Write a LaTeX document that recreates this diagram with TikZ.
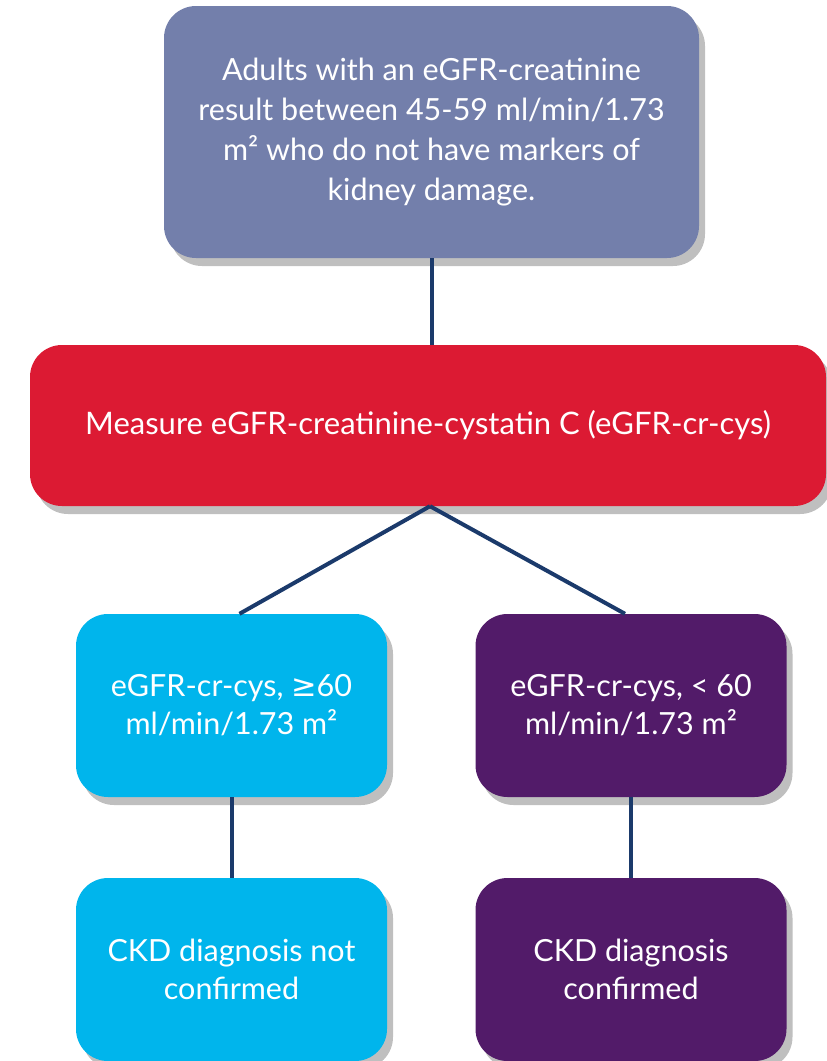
\documentclass[tikz,border=0pt]{standalone}
\usepackage{fontspec}
\setmainfont{Lato}
\newfontfamily\symfont{DejaVu Sans}
\usepackage{tikz}
\usetikzlibrary{shapes,shadows,positioning}
\definecolor{slate}{RGB}{115,127,171}
\definecolor{alarm}{RGB}{220,26,51}
\definecolor{sky}{RGB}{0,181,236}
\definecolor{plum}{RGB}{82,27,105}
\definecolor{navy}{RGB}{27,58,107}
\tikzstyle{block} = [rectangle, text=white, align=center, rounded corners=32pt,
drop shadow={shadow xshift=6pt, shadow yshift=-8pt, opacity=0.25, fill=black},
font=\fontsize{30.5}{40}\selectfont]
\tikzstyle{result} = [block, minimum width=311pt, minimum height=183pt,
font=\fontsize{30.5}{38}\selectfont]
\tikzstyle{line} = [draw, navy, line width=4pt]

\begin{document}
\begin{tikzpicture}[x=1pt, y=-1pt]
\useasboundingbox (0,0) rectangle (827,1061);
% Place nodes
\node [block, fill=slate, minimum width=535pt, minimum height=252pt] (i1) at (431.5,132)
{Adults with an eGFR-creatinine\\result between 45-59 ml/min/1.73\\m² who do not have markers of\\kidney damage.};
\node [block, fill=alarm, minimum width=796pt, minimum height=161pt,
font=\fontsize{31}{40}\selectfont] (i2) at (428,425.5)
{Measure eGFR-creatinine-cystatin C (eGFR-cr-cys)};
\node [result, fill=sky] (i3) at (231.5,705.5) {eGFR-cr-cys, {\symfont ≥}60\\ml/min/1.73 m²};
\node [result, fill=plum, right of=i3, node distance=399.5pt] (i4) {eGFR-cr-cys, < 60\\ml/min/1.73 m²};
\node [result, fill=sky, below of=i3, node distance=264pt] (i5) {CKD diagnosis not\\confirmed};
\node [result, fill=plum, below of=i4, node distance=264pt] (i6) {CKD diagnosis\\confirmed};

% Draw edges
\path [line] (i1.south) -- (i1.south |- i2.north);
\path [line] ([xshift=2pt]i2.south) -- ([xshift=8pt]i3.north);
\path [line] ([xshift=2pt]i2.south) -- ([xshift=-6pt]i4.north);
\path [line] (i3) -- (i5);
\path [line] (i4) -- (i6);
\end{tikzpicture}
\end{document}
